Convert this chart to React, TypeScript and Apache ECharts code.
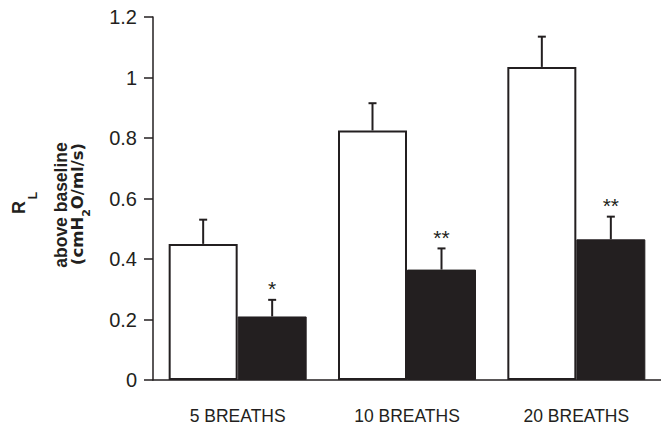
import React, { useEffect, useRef } from "react";
import * as echarts from "echarts";

const categories = ["5 BREATHS", "10 BREATHS", "20 BREATHS"];
const controlValues = [0.45, 0.825, 1.035];
const controlErrorTop = [0.53, 0.915, 1.135];
const treatedValues = [0.21, 0.365, 0.465];
const treatedErrorTop = [0.265, 0.435, 0.54];
const treatedMarks = ["*", "**", "**"];
const yMin = 0;
const yMax = 1.2;
const yInterval = 0.2;

const INK = "#231f20";
const BAR_WIDTH = 69;
const FONT = "Liberation Sans";
const WIDE_FONT = "DejaVu Sans";

function errorSeries(values: number[], tops: number[], offset: number, marks: string[] | null) {
  return {
    type: "custom",
    z: 5,
    encode: { x: 0, y: [1, 2] },
    data: values.map((v, i) => [i, v, tops[i]]),
    renderItem: (params: any, api: any) => {
      const i = api.value(0);
      const base = api.coord([i, api.value(1)]);
      const top = api.coord([i, api.value(2)]);
      const x = base[0] + offset;
      const children: any[] = [
        { type: "line", shape: { x1: x, y1: base[1], x2: x, y2: top[1] }, style: { stroke: INK, lineWidth: 2 } },
        { type: "line", shape: { x1: x - 4, y1: top[1], x2: x + 4, y2: top[1] }, style: { stroke: INK, lineWidth: 2 } },
      ];
      const m = marks ? marks[params.dataIndex] : "";
      if (m) {
        children.push({
          type: "text",
          x,
          y: top[1] - 11,
          style: {
            text: m,
            fill: INK,
            fontSize: 21,
            fontFamily: FONT,
            align: "center",
            verticalAlign: "middle",
          },
        });
      }
      return { type: "group", children };
    },
  };
}

export default function App() {
  const ref = useRef<HTMLDivElement>(null);
  useEffect(() => {
    if (!ref.current) return;
    const chart = echarts.init(ref.current, null, { renderer: "svg" });
    const rot = Math.PI / 2;
    chart.setOption({
      animation: false,
      backgroundColor: "#fff",
      grid: { left: 153, top: 17, bottom: 45, right: -9, containLabel: false },
      xAxis: {
        type: "category",
        data: categories,
        axisLine: { lineStyle: { color: INK, width: 1.5 } },
        axisTick: { show: false },
        axisLabel: { color: INK, fontSize: 17.5, fontFamily: FONT, margin: 27 },
      },
      yAxis: {
        type: "value",
        min: yMin,
        max: yMax,
        interval: yInterval,
        splitLine: { show: false },
        axisLine: { show: true, lineStyle: { color: INK, width: 1.5 } },
        axisTick: { show: true, length: 9, lineStyle: { color: INK, width: 1.5 } },
        axisLabel: { color: INK, fontSize: 20, fontFamily: FONT, margin: 16 },
      },
      graphic: [
        {
          type: "text",
          x: 18.7,
          y: 207.5,
          rotation: rot,
          style: { text: "R", fontSize: 18, fontWeight: "bold", fontFamily: FONT, fill: INK, align: "center", verticalAlign: "middle" },
        },
        {
          type: "text",
          x: 32.5,
          y: 195.5,
          rotation: rot,
          style: { text: "L", fontSize: 12, fontWeight: "bold", fontFamily: FONT, fill: INK, align: "center", verticalAlign: "middle" },
        },
        {
          type: "text",
          x: 61,
          y: 205,
          rotation: rot,
          style: { text: "above baseline", fontSize: 17.5, fontWeight: "bold", fontFamily: FONT, fill: INK, align: "center", verticalAlign: "middle" },
        },
        {
          type: "text",
          x: 86,
          y: 204,
          rotation: rot,
          style: {
            text: "{m|(cmH}{s|2}{m|O/ml/s)}",
            align: "center",
            verticalAlign: "middle",
            fill: INK,
            rich: {
              m: { fontSize: 16.5, fontWeight: "bold", fontFamily: WIDE_FONT, lineHeight: 20, verticalAlign: "top", fill: INK },
              s: { fontSize: 11, fontWeight: "bold", fontFamily: WIDE_FONT, lineHeight: 34, fill: INK },
            },
          },
        },
      ],
      series: [
        {
          type: "bar",
          data: controlValues,
          barWidth: BAR_WIDTH,
          barGap: "0%",
          itemStyle: { color: "#ffffff", borderColor: INK, borderWidth: 2 },
        },
        {
          type: "bar",
          data: treatedValues,
          barWidth: BAR_WIDTH,
          barGap: "0%",
          itemStyle: { color: INK, borderColor: INK, borderWidth: 1 },
        },
        errorSeries(controlValues, controlErrorTop, -BAR_WIDTH / 2, null),
        errorSeries(treatedValues, treatedErrorTop, BAR_WIDTH / 2, treatedMarks),
      ],
    });
    return () => chart.dispose();
  }, []);
  return <div ref={ref} style={{ position: "fixed", left: 0, top: 0, width: 661, height: 425 }} />;
}
